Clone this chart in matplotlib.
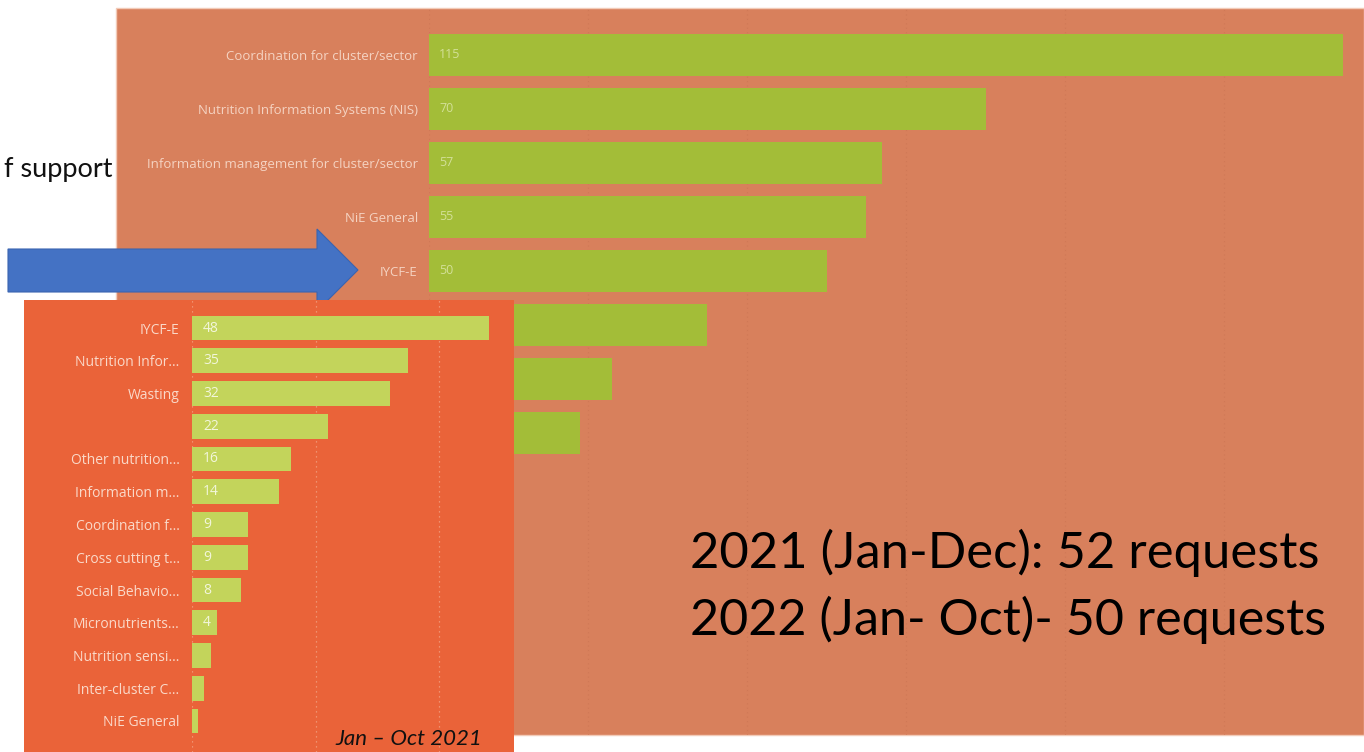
import matplotlib
matplotlib.use("Agg")
import matplotlib.pyplot as plt
from matplotlib.patches import Rectangle, Polygon

# ---------------- data ----------------
big_categories = [
    "Coordination for cluster/sector",
    "Nutrition Information Systems (NIS)",
    "Information management for cluster/sector",
    "NiE General",
    "IYCF-E",
    "Wasting",
    "Other nutrition topics",
    "Cross cutting themes",
]
big_values = [115, 70, 57, 55, 50, 35, 23, 19]

small_categories = [
    "IYCF-E",
    "Nutrition Infor...",
    "Wasting",
    "",
    "Other nutrition...",
    "Information m...",
    "Coordination f...",
    "Cross cutting t...",
    "Social Behavio...",
    "Micronutrients...",
    "Nutrition sensi...",
    "Inter-cluster C...",
    "NiE General",
]
small_values = [48, 35, 32, 22, 16, 14, 9, 9, 8, 4, 3, 2, 1]

side_text = "f support"
summary_lines = ["2021 (Jan-Dec): 52 requests", "2022 (Jan- Oct)- 50 requests"]
period_label = "Jan \u2013 Oct 2021"

# ---------------- styling ----------------
W, H = 1364, 752
BIG_BG = "#D8805C"
BIG_BAR = "#A3BD38"
SMALL_BG = "#EA6339"
SMALL_BAR = "#C3D45B"
ARROW = "#4472C4"
FONT = ["Lato", "DejaVu Sans"]

fig = plt.figure(figsize=(W / 100, H / 100), dpi=100)
fig.patch.set_facecolor("white")


def fx(x):
    return x / W


def fy(y):
    return 1 - y / H


def rect_axes(x0, y0, x1, y1, z):
    ax = fig.add_axes([fx(x0), fy(y1), (x1 - x0) / W, (y1 - y0) / H])
    ax.set_zorder(z)
    ax.patch.set_alpha(0)
    return ax


# big panel background
fig.patches.append(Rectangle((fx(116), fy(735)), (1364 - 116) / W, (735 - 8) / H,
                             transform=fig.transFigure, facecolor=BIG_BG,
                             edgecolor="#F2CBB8", linewidth=1.0, zorder=0))

# big chart
axb = rect_axes(429, 8, 1364, 735, 1)
yb = list(range(len(big_categories)))
axb.barh(yb, big_values, height=0.78, color=BIG_BAR, zorder=2)
axb.set_xlim(0, (1364 - 429) / 7.95)
axb.set_ylim((735 - 55) / 54, -(55 - 8) / 54)
axb.set_yticks(yb)
axb.set_yticklabels(big_categories, fontsize=9.5, color="#F5D3C2", family="Open Sans")
axb.tick_params(axis="y", length=0, pad=8)
axb.set_xticks([0, 20, 40, 60, 80, 100])
axb.tick_params(axis="x", length=0, labelbottom=False)
axb.grid(axis="x", linestyle=(0, (1, 3)), color="#CF7856", linewidth=0.8, zorder=0)
for s in axb.spines.values():
    s.set_visible(False)
for y, v in zip(yb, big_values):
    axb.text(1.3, y, str(v), va="center", ha="left", fontsize=9,
             color="#D3E098", family="Open Sans", zorder=3)

# arrow
pts = [(8, 249), (317, 249), (317, 229), (358, 270), (317, 311), (317, 292), (8, 292)]
fig.patches.append(Polygon([(fx(x), fy(y)) for x, y in pts], closed=True,
                           transform=fig.transFigure, facecolor=ARROW,
                           edgecolor="#3A64B0", linewidth=0.8, zorder=2))

# small panel background
fig.patches.append(Rectangle((fx(24), fy(752)), (514 - 24) / W, (752 - 300) / H,
                             transform=fig.transFigure, facecolor=SMALL_BG,
                             edgecolor="none", zorder=3))

# small chart
axs = rect_axes(192, 300, 514, 752, 4)
ys = list(range(len(small_categories)))
axs.barh(ys, small_values, height=0.76, color=SMALL_BAR, zorder=2)
axs.set_xlim(0, (514 - 192) / 6.18)
axs.set_ylim((752 - 328) / 32.75, -(328 - 300) / 32.75)
axs.set_yticks(ys)
axs.set_yticklabels(small_categories, fontsize=10, color="#FAD9C9", family="Open Sans")
axs.tick_params(axis="y", length=0, pad=9)
axs.set_xticks([0, 20, 40])
axs.tick_params(axis="x", length=0, labelbottom=False)
axs.grid(axis="x", linestyle=(0, (1, 3)), color="#F3A182", linewidth=0.9, zorder=0)
for s in axs.spines.values():
    s.set_visible(False)
for y, v in zip(ys, small_values):
    if v >= 4:
        axs.text(1.8, y, str(v), va="center", ha="left", fontsize=10,
                 color="#F2F6DA", family="Open Sans", zorder=3)

# texts
fig.text(fx(112), fy(170), side_text, ha="right", va="center", fontsize=19.5,
         color="#111111", family=FONT, zorder=6)
fig.text(fx(690), fy(553), summary_lines[0], ha="left", va="center", fontsize=36.5,
         color="black", family=FONT, zorder=6)
fig.text(fx(690), fy(620), summary_lines[1], ha="left", va="center", fontsize=36.2,
         color="black", family=FONT, zorder=6)
fig.text(fx(482), fy(739), period_label, ha="right", va="center", fontsize=16,
         style="italic", color="#111111", family=FONT, zorder=6)

fig.savefig("out.png", dpi=100, facecolor="white")
